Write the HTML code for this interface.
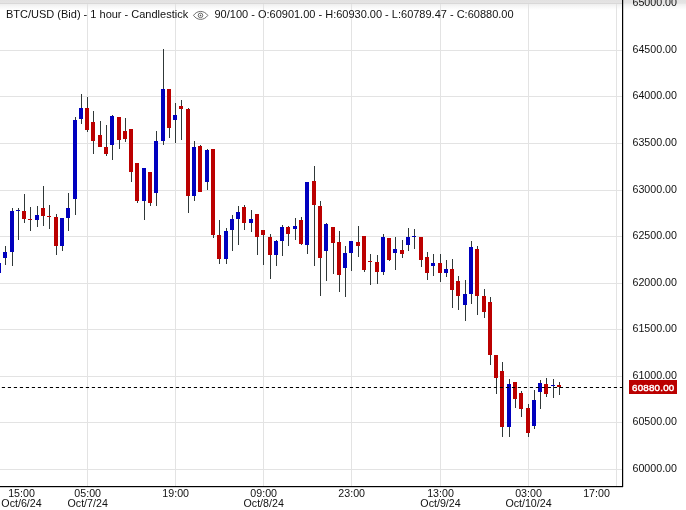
<!DOCTYPE html>
<html><head><meta charset="utf-8"><title>BTC/USD chart</title>
<style>
html,body{margin:0;padding:0;background:#fff;}
body{width:686px;height:510px;overflow:hidden;position:relative;font-family:"Liberation Sans",Arial,sans-serif;}
#top{position:absolute;left:0;top:0;width:686px;height:10px;background:linear-gradient(to bottom,#e2e1e1 0px,#e5e4e4 3px,#eaeaea 4px,#f0f0f0 4.5px,#f8f8f8 7px,#ffffff 10px);}
svg{position:absolute;left:0;top:0;}
text{font-family:"Liberation Sans",Arial,sans-serif;font-size:10.667px;fill:#111;}
</style></head><body>
<div id="top"></div>
<svg width="686" height="510" viewBox="0 0 686 510">

<g fill="#e3e3e3" shape-rendering="crispEdges">
<rect x="87" y="0" width="1" height="486"/>
<rect x="175" y="0" width="1" height="486"/>
<rect x="263" y="0" width="1" height="486"/>
<rect x="351" y="0" width="1" height="486"/>
<rect x="440" y="0" width="1" height="486"/>
<rect x="528" y="0" width="1" height="486"/>
<rect x="616" y="0" width="1" height="486"/>
<rect x="0" y="3" width="622" height="1" fill="#d9d8d8"/>
<rect x="0" y="50" width="622" height="1"/>
<rect x="0" y="96" width="622" height="1"/>
<rect x="0" y="143" width="622" height="1"/>
<rect x="0" y="190" width="622" height="1"/>
<rect x="0" y="236" width="622" height="1"/>
<rect x="0" y="283" width="622" height="1"/>
<rect x="0" y="329" width="622" height="1"/>
<rect x="0" y="376" width="622" height="1"/>
<rect x="0" y="422" width="622" height="1"/>
<rect x="0" y="469" width="622" height="1"/>
</g>
<g shape-rendering="crispEdges">
<rect x="-1" y="258" width="1" height="18" fill="#303838"/>
<rect x="-3" y="263" width="4" height="10" fill="#0000be"/>
<rect x="5" y="246" width="1" height="19" fill="#303838"/>
<rect x="3" y="252" width="4" height="6" fill="#0000be"/>
<rect x="12" y="208" width="1" height="58" fill="#303838"/>
<rect x="10" y="211" width="4" height="41" fill="#0000be"/>
<rect x="18" y="208" width="1" height="32" fill="#303838"/>
<rect x="16" y="210" width="4" height="1" fill="#0000be"/>
<rect x="24" y="194" width="1" height="29" fill="#303838"/>
<rect x="22" y="211" width="4" height="8" fill="#bb0000"/>
<rect x="30" y="207" width="1" height="24" fill="#303838"/>
<rect x="28" y="219" width="4" height="1" fill="#bb0000"/>
<rect x="37" y="206" width="1" height="21" fill="#303838"/>
<rect x="35" y="215" width="4" height="5" fill="#0000be"/>
<rect x="43" y="186" width="1" height="40" fill="#303838"/>
<rect x="41" y="208" width="4" height="8" fill="#bb0000"/>
<rect x="49" y="205" width="1" height="24" fill="#303838"/>
<rect x="47" y="216" width="4" height="1" fill="#bb0000"/>
<rect x="56" y="214" width="1" height="41" fill="#303838"/>
<rect x="54" y="217" width="4" height="29" fill="#bb0000"/>
<rect x="62" y="218" width="1" height="33" fill="#303838"/>
<rect x="60" y="218" width="4" height="28" fill="#0000be"/>
<rect x="68" y="193" width="1" height="38" fill="#303838"/>
<rect x="66" y="208" width="4" height="10" fill="#0000be"/>
<rect x="75" y="117" width="1" height="98" fill="#303838"/>
<rect x="73" y="120" width="4" height="79" fill="#0000be"/>
<rect x="81" y="94" width="1" height="30" fill="#303838"/>
<rect x="79" y="108" width="4" height="11" fill="#0000be"/>
<rect x="87" y="97" width="1" height="35" fill="#303838"/>
<rect x="85" y="108" width="4" height="22" fill="#bb0000"/>
<rect x="93" y="111" width="1" height="43" fill="#303838"/>
<rect x="91" y="122" width="4" height="19" fill="#bb0000"/>
<rect x="100" y="121" width="1" height="26" fill="#303838"/>
<rect x="98" y="135" width="4" height="12" fill="#bb0000"/>
<rect x="106" y="125" width="1" height="31" fill="#303838"/>
<rect x="104" y="147" width="4" height="7" fill="#bb0000"/>
<rect x="112" y="115" width="1" height="45" fill="#303838"/>
<rect x="110" y="116" width="4" height="29" fill="#0000be"/>
<rect x="119" y="117" width="1" height="32" fill="#303838"/>
<rect x="117" y="117" width="4" height="23" fill="#bb0000"/>
<rect x="125" y="118" width="1" height="24" fill="#303838"/>
<rect x="123" y="131" width="4" height="8" fill="#bb0000"/>
<rect x="131" y="129" width="1" height="53" fill="#303838"/>
<rect x="129" y="129" width="4" height="43" fill="#bb0000"/>
<rect x="137" y="163" width="1" height="40" fill="#303838"/>
<rect x="135" y="163" width="4" height="38" fill="#bb0000"/>
<rect x="144" y="168" width="1" height="52" fill="#303838"/>
<rect x="142" y="168" width="4" height="33" fill="#0000be"/>
<rect x="150" y="172" width="1" height="34" fill="#303838"/>
<rect x="148" y="172" width="4" height="31" fill="#bb0000"/>
<rect x="156" y="131" width="1" height="75" fill="#303838"/>
<rect x="154" y="141" width="4" height="52" fill="#0000be"/>
<rect x="163" y="49" width="1" height="96" fill="#303838"/>
<rect x="161" y="89" width="4" height="52" fill="#0000be"/>
<rect x="169" y="89" width="1" height="49" fill="#303838"/>
<rect x="167" y="89" width="4" height="39" fill="#bb0000"/>
<rect x="175" y="103" width="1" height="40" fill="#303838"/>
<rect x="173" y="115" width="4" height="5" fill="#0000be"/>
<rect x="181" y="100" width="1" height="40" fill="#303838"/>
<rect x="179" y="106" width="4" height="3" fill="#bb0000"/>
<rect x="188" y="108" width="1" height="105" fill="#303838"/>
<rect x="186" y="109" width="4" height="87" fill="#bb0000"/>
<rect x="194" y="141" width="1" height="60" fill="#303838"/>
<rect x="192" y="147" width="4" height="49" fill="#0000be"/>
<rect x="200" y="145" width="1" height="47" fill="#303838"/>
<rect x="198" y="146" width="4" height="46" fill="#bb0000"/>
<rect x="207" y="149" width="1" height="41" fill="#303838"/>
<rect x="205" y="150" width="4" height="32" fill="#0000be"/>
<rect x="213" y="149" width="1" height="89" fill="#303838"/>
<rect x="211" y="149" width="4" height="86" fill="#bb0000"/>
<rect x="219" y="220" width="1" height="44" fill="#303838"/>
<rect x="217" y="235" width="4" height="24" fill="#bb0000"/>
<rect x="226" y="228" width="1" height="36" fill="#303838"/>
<rect x="224" y="231" width="4" height="28" fill="#0000be"/>
<rect x="232" y="215" width="1" height="36" fill="#303838"/>
<rect x="230" y="219" width="4" height="11" fill="#0000be"/>
<rect x="238" y="206" width="1" height="39" fill="#303838"/>
<rect x="236" y="212" width="4" height="7" fill="#0000be"/>
<rect x="244" y="205" width="1" height="25" fill="#303838"/>
<rect x="242" y="207" width="4" height="16" fill="#bb0000"/>
<rect x="251" y="210" width="1" height="22" fill="#303838"/>
<rect x="249" y="219" width="4" height="4" fill="#0000be"/>
<rect x="257" y="214" width="1" height="41" fill="#303838"/>
<rect x="255" y="214" width="4" height="23" fill="#bb0000"/>
<rect x="263" y="230" width="1" height="35" fill="#303838"/>
<rect x="261" y="230" width="4" height="5" fill="#bb0000"/>
<rect x="270" y="234" width="1" height="45" fill="#303838"/>
<rect x="268" y="237" width="4" height="18" fill="#bb0000"/>
<rect x="276" y="240" width="1" height="26" fill="#303838"/>
<rect x="274" y="241" width="4" height="14" fill="#0000be"/>
<rect x="282" y="225" width="1" height="31" fill="#303838"/>
<rect x="280" y="227" width="4" height="14" fill="#0000be"/>
<rect x="288" y="226" width="1" height="20" fill="#303838"/>
<rect x="286" y="227" width="4" height="7" fill="#bb0000"/>
<rect x="295" y="218" width="1" height="22" fill="#303838"/>
<rect x="293" y="226" width="4" height="3" fill="#0000be"/>
<rect x="301" y="217" width="1" height="28" fill="#303838"/>
<rect x="299" y="220" width="4" height="24" fill="#bb0000"/>
<rect x="307" y="182" width="1" height="72" fill="#303838"/>
<rect x="305" y="182" width="4" height="63" fill="#0000be"/>
<rect x="314" y="166" width="1" height="100" fill="#303838"/>
<rect x="312" y="181" width="4" height="24" fill="#bb0000"/>
<rect x="320" y="201" width="1" height="95" fill="#303838"/>
<rect x="318" y="206" width="4" height="52" fill="#bb0000"/>
<rect x="326" y="223" width="1" height="58" fill="#303838"/>
<rect x="324" y="224" width="4" height="27" fill="#0000be"/>
<rect x="333" y="227" width="1" height="47" fill="#303838"/>
<rect x="331" y="227" width="4" height="16" fill="#bb0000"/>
<rect x="339" y="231" width="1" height="61" fill="#303838"/>
<rect x="337" y="242" width="4" height="33" fill="#bb0000"/>
<rect x="345" y="246" width="1" height="51" fill="#303838"/>
<rect x="343" y="253" width="4" height="15" fill="#0000be"/>
<rect x="351" y="241" width="1" height="30" fill="#303838"/>
<rect x="349" y="241" width="4" height="12" fill="#0000be"/>
<rect x="358" y="226" width="1" height="31" fill="#303838"/>
<rect x="356" y="242" width="4" height="4" fill="#bb0000"/>
<rect x="364" y="236" width="1" height="36" fill="#303838"/>
<rect x="362" y="236" width="4" height="34" fill="#bb0000"/>
<rect x="370" y="254" width="1" height="31" fill="#303838"/>
<rect x="368" y="261" width="4" height="1" fill="#bb0000"/>
<rect x="377" y="255" width="1" height="29" fill="#303838"/>
<rect x="375" y="262" width="4" height="10" fill="#bb0000"/>
<rect x="383" y="234" width="1" height="41" fill="#303838"/>
<rect x="381" y="237" width="4" height="35" fill="#0000be"/>
<rect x="389" y="238" width="1" height="23" fill="#303838"/>
<rect x="387" y="238" width="4" height="22" fill="#bb0000"/>
<rect x="395" y="237" width="1" height="33" fill="#303838"/>
<rect x="393" y="249" width="4" height="4" fill="#0000be"/>
<rect x="402" y="240" width="1" height="18" fill="#303838"/>
<rect x="400" y="250" width="4" height="4" fill="#bb0000"/>
<rect x="408" y="228" width="1" height="23" fill="#303838"/>
<rect x="406" y="237" width="4" height="8" fill="#0000be"/>
<rect x="414" y="229" width="1" height="20" fill="#303838"/>
<rect x="412" y="236" width="4" height="1" fill="#0000be"/>
<rect x="421" y="237" width="1" height="30" fill="#303838"/>
<rect x="419" y="237" width="4" height="23" fill="#bb0000"/>
<rect x="427" y="252" width="1" height="28" fill="#303838"/>
<rect x="425" y="257" width="4" height="16" fill="#bb0000"/>
<rect x="433" y="254" width="1" height="22" fill="#303838"/>
<rect x="431" y="263" width="4" height="3" fill="#0000be"/>
<rect x="440" y="254" width="1" height="28" fill="#303838"/>
<rect x="438" y="263" width="4" height="10" fill="#bb0000"/>
<rect x="446" y="260" width="1" height="17" fill="#303838"/>
<rect x="444" y="269" width="4" height="4" fill="#0000be"/>
<rect x="452" y="259" width="1" height="49" fill="#303838"/>
<rect x="450" y="269" width="4" height="21" fill="#bb0000"/>
<rect x="458" y="276" width="1" height="34" fill="#303838"/>
<rect x="456" y="281" width="4" height="15" fill="#bb0000"/>
<rect x="465" y="280" width="1" height="41" fill="#303838"/>
<rect x="463" y="294" width="4" height="11" fill="#0000be"/>
<rect x="471" y="241" width="1" height="63" fill="#303838"/>
<rect x="469" y="247" width="4" height="47" fill="#0000be"/>
<rect x="477" y="246" width="1" height="69" fill="#303838"/>
<rect x="475" y="249" width="4" height="47" fill="#bb0000"/>
<rect x="484" y="289" width="1" height="29" fill="#303838"/>
<rect x="482" y="296" width="4" height="16" fill="#bb0000"/>
<rect x="490" y="297" width="1" height="68" fill="#303838"/>
<rect x="488" y="302" width="4" height="53" fill="#bb0000"/>
<rect x="496" y="355" width="1" height="39" fill="#303838"/>
<rect x="494" y="355" width="4" height="23" fill="#bb0000"/>
<rect x="502" y="362" width="1" height="75" fill="#303838"/>
<rect x="500" y="371" width="4" height="56" fill="#bb0000"/>
<rect x="509" y="379" width="1" height="58" fill="#303838"/>
<rect x="507" y="384" width="4" height="43" fill="#0000be"/>
<rect x="515" y="382" width="1" height="26" fill="#303838"/>
<rect x="513" y="382" width="4" height="17" fill="#bb0000"/>
<rect x="521" y="391" width="1" height="26" fill="#303838"/>
<rect x="519" y="393" width="4" height="16" fill="#bb0000"/>
<rect x="528" y="404" width="1" height="33" fill="#303838"/>
<rect x="526" y="408" width="4" height="25" fill="#bb0000"/>
<rect x="534" y="390" width="1" height="39" fill="#303838"/>
<rect x="532" y="400" width="4" height="26" fill="#0000be"/>
<rect x="540" y="380" width="1" height="29" fill="#303838"/>
<rect x="538" y="383" width="4" height="9" fill="#0000be"/>
<rect x="546" y="378" width="1" height="19" fill="#303838"/>
<rect x="544" y="384" width="4" height="10" fill="#bb0000"/>
<rect x="553" y="379" width="1" height="19" fill="#303838"/>
<rect x="551" y="385" width="4" height="1" fill="#0000be"/>
<rect x="559" y="382" width="1" height="13" fill="#303838"/>
<rect x="557" y="385" width="4" height="2" fill="#bb0000"/>
</g>
<line x1="1.84" y1="387.5" x2="622" y2="387.5" stroke="#000" stroke-width="1.2" stroke-dasharray="3.2 2.8"/>
<rect x="622" y="0" width="1.2" height="487" fill="#000"/>
<rect x="0" y="486" width="623" height="1.2" fill="#000"/>
<text x="632.5" y="6.0">65000.00</text>
<text x="632.5" y="53.0">64500.00</text>
<text x="632.5" y="99.0">64000.00</text>
<text x="632.5" y="146.0">63500.00</text>
<text x="632.5" y="193.0">63000.00</text>
<text x="632.5" y="239.0">62500.00</text>
<text x="632.5" y="286.0">62000.00</text>
<text x="632.5" y="332.0">61500.00</text>
<text x="632.5" y="379.0">61000.00</text>
<text x="632.5" y="425.0">60500.00</text>
<text x="632.5" y="472.0">60000.00</text>
<rect x="629" y="380" width="48" height="14" fill="#bb0000"/>
<text x="632" y="390.9" style="fill:#fff;stroke:#fff;stroke-width:0.45px;font-size:9.8px;letter-spacing:0.2px">60880.00</text>
<text x="21.5" y="496.6" text-anchor="middle">15:00</text>
<text x="21.5" y="507" text-anchor="middle">Oct/6/24</text>
<text x="87.7" y="496.6" text-anchor="middle">05:00</text>
<text x="87.7" y="507" text-anchor="middle">Oct/7/24</text>
<text x="175.7" y="496.6" text-anchor="middle">19:00</text>
<text x="263.7" y="496.6" text-anchor="middle">09:00</text>
<text x="263.7" y="507" text-anchor="middle">Oct/8/24</text>
<text x="351.7" y="496.6" text-anchor="middle">23:00</text>
<text x="440.5" y="496.6" text-anchor="middle">13:00</text>
<text x="440.5" y="507" text-anchor="middle">Oct/9/24</text>
<text x="528.5" y="496.6" text-anchor="middle">03:00</text>
<text x="528.5" y="507" text-anchor="middle">Oct/10/24</text>
<text x="596.5" y="496.6" text-anchor="middle">17:00</text>
<text x="6" y="18" style="font-size:11px">BTC/USD (Bid) - 1 hour - Candlestick</text>
<g fill="none" stroke="#4a4a4a" stroke-width="0.8"><path d="M193.5 15.4 C197.2 10.1 204 10.1 207.8 15.4 C204 20.7 197.2 20.7 193.5 15.4 Z"/><circle cx="200.5" cy="15.4" r="2.3"/><circle cx="200.5" cy="15.4" r="0.5" fill="#555"/></g>
<text x="214.5" y="18" style="font-size:11px">90/100 - O:60901.00 - H:60930.00 - L:60789.47 - C:60880.00</text>
</svg></body></html>
